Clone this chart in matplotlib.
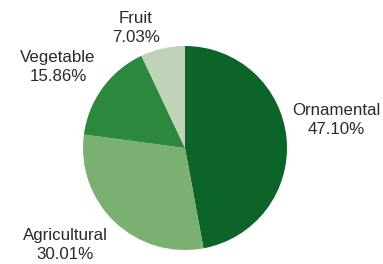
import matplotlib
matplotlib.use("Agg")
import matplotlib.pyplot as plt

labels = ["Ornamental", "Agricultural", "Vegetable", "Fruit"]
shares = [47.10, 30.01, 15.86, 7.03]
colors = ["#0c6429", "#7ab171", "#2b883d", "#bfd3b9"]

# label block centres in pixels (x, y from top)
label_pos = {
    "Ornamental": (336, 120),
    "Agricultural": (65, 245),
    "Vegetable": (58, 67),
    "Fruit": (136, 28),
}

W, H = 383, 264
fig = plt.figure(figsize=(W / 100, H / 100), dpi=100)

cx, cy, r = 185, 148, 102
ax = fig.add_axes([(cx - r) / W, (H - cy - r) / H, 2 * r / W, 2 * r / H])
ax.pie(shares, colors=colors, startangle=90, counterclock=False, radius=1,
       wedgeprops=dict(linewidth=0))
ax.set_xlim(-1, 1)
ax.set_ylim(-1, 1)
ax.set_aspect("equal")
ax.axis("off")

for name, val in zip(labels, shares):
    x, y = label_pos[name]
    fig.text(x / W, 1 - y / H, f"{name}\n{val:.2f}%", ha="center", va="center",
             multialignment="center", fontsize=12.2, family="Liberation Sans",
             color="#2a2a2a", linespacing=1.35)

fig.savefig("out.png", dpi=100)
